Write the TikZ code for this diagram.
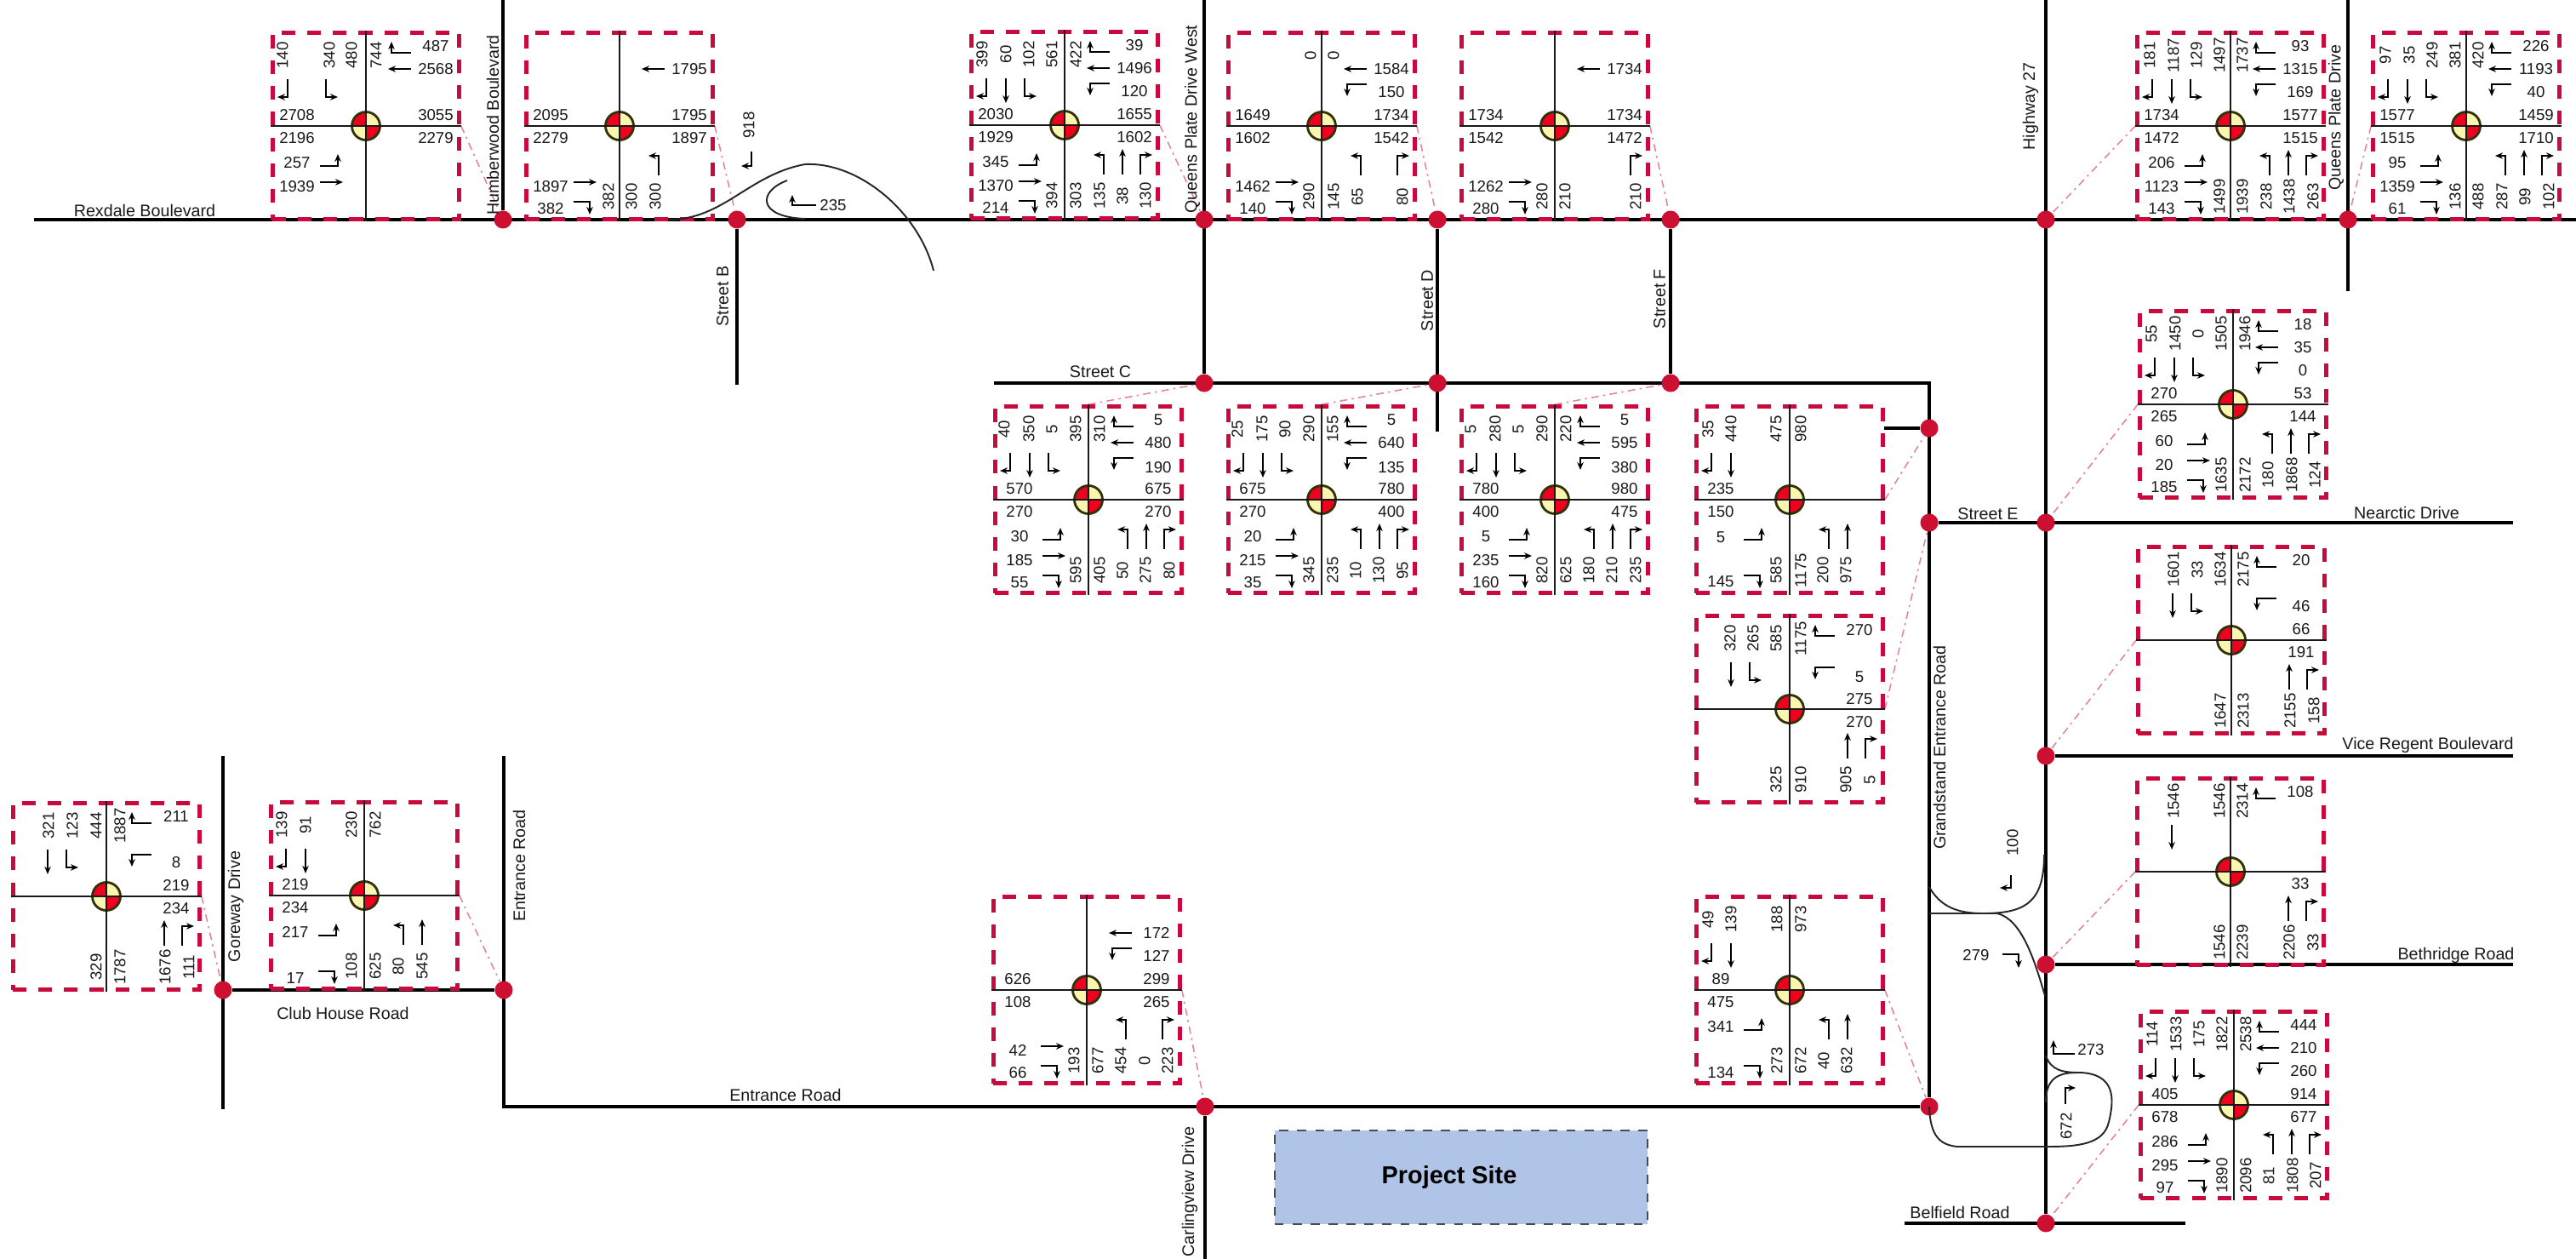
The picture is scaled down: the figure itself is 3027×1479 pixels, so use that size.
\documentclass[tikz,border=0pt]{standalone}
\usepackage{fontspec}
\setmainfont{Liberation Sans}
\usepackage{xcolor}
\usetikzlibrary{arrows.meta,backgrounds}
\definecolor{boxred}{RGB}{200,10,60}
\definecolor{dotred}{RGB}{205,15,50}
\definecolor{sigred}{RGB}{240,0,30}
\definecolor{sigyel}{RGB}{250,245,175}
\definecolor{sigedge}{RGB}{50,50,10}
\definecolor{siteblue}{RGB}{176,196,232}
\tikzset{
  road/.style={line width=1.15pt,black,line join=miter},
  jdot/.style={circle,fill=dotred,minimum size=0.21cm,inner sep=0pt},
  tbox/.style={draw=boxred,line width=1.3pt,dash pattern=on 0.16cm off 0.14cm,minimum size=2.19cm,inner sep=0pt},
  xline/.style={line width=0.55pt,black!90},
  leader/.style={line width=0.45pt,draw=boxred!50,dash pattern=on 2.5pt off 1.5pt on 0.7pt off 1.5pt},
  num/.style={font=\fontsize{5.3}{6}\selectfont,inner sep=0pt,text=black!90},
  numv/.style={num,rotate=90},
  rlabel/.style={font=\fontsize{5.6}{7}\selectfont,inner sep=0pt,text=black!90},
  rlabelv/.style={rlabel,rotate=90},
  mv/.style={line width=0.55pt,-{Stealth[length=0.09cm,width=0.075cm]}},
  ramp/.style={line width=0.55pt,black!85},
  psite/.style={draw=black!70,dashed,fill=siteblue,minimum width=4.38cm,minimum height=1.1cm,inner sep=0pt,font=\fontsize{8.2}{10}\selectfont\bfseries},
}
% movement arrows, in box coordinates
\newcommand{\mvSa}{\draw[mv] (18,55) -- (18,76) -- (6,76);}
\newcommand{\mvSb}{\draw[mv] (41,55) -- (41,84);}
\newcommand{\mvSc}{\draw[mv] (63,55) -- (63,76) -- (77,76);}
\newcommand{\mvWa}{\draw[mv] (163,24) -- (140,24) -- (140,11);}
\newcommand{\mvWb}{\draw[mv] (163,43) -- (136,43);}
\newcommand{\mvWc}{\draw[mv] (163,61) -- (140,61) -- (140,75);}
\newcommand{\mvEa}{\draw[mv] (56,157) -- (77,157) -- (77,143);}
\newcommand{\mvEb}{\draw[mv] (56,176) -- (83,176);}
\newcommand{\mvEc}{\draw[mv] (56,199) -- (75,199) -- (75,214);}
\newcommand{\mvNa}{\draw[mv] (156,168) -- (156,145) -- (144,145);}
\newcommand{\mvNb}{\draw[mv] (178,168) -- (178,138);}
\newcommand{\mvNc}{\draw[mv] (199,168) -- (199,145) -- (213,145);}
% one count box: name, x, y, top, bottom, left, right, moves
\newcommand{\cntbox}[8]{%
  \begin{scope}[shift={(#2,#3)},name prefix=#1-]
    \node[tbox] (box) at (110,110) {};
    \fill[sigyel] (box.center) circle[radius=0.165cm];
    \fill[sigred] (box.center) -- ++(-0.165cm,0) arc[start angle=180,end angle=90,radius=0.165cm] -- cycle;
    \fill[sigred] (box.center) -- ++(0.165cm,0) arc[start angle=0,end angle=-90,radius=0.165cm] -- cycle;
    \draw[sigedge,line width=0.8pt] (box.center) circle[radius=0.165cm];
    \draw[xline] (box.north) -- (box.south);
    \draw[xline] (box.west) -- (box.east);
    \foreach \px/\val [count=\i] in {#4} \node[numv] (t\i) at (\px,27) {\val};
    \foreach \px/\val [count=\i] in {#5} \node[numv] (b\i) at (\px,193) {\val};
    \foreach \py/\val [count=\i] in {#6} \node[num] (l\i) at (29,\py) {\val};
    \foreach \py/\val [count=\i] in {#7} \node[num] (r\i) at (192,\py) {\val};
    \foreach \m in {#8} {\csname mv\m\endcsname}
  \end{scope}}

\begin{document}
\begin{tikzpicture}[x=0.01cm,y=-0.01cm]
  \useasboundingbox (0,0) rectangle (3027,1479);

  % junction dots
  \node[jdot] (humb) at (591,258) {};
  \node[jdot] (strb) at (866,258) {};
  \node[jdot] (qwtop) at (1415,258) {};
  \node[jdot] (strd) at (1689,258) {};
  \node[jdot] (strf) at (1963,258) {};
  \node[jdot] (hwtop) at (2404,258) {};
  \node[jdot] (qpd) at (2759,258) {};
  \node[jdot] (cq) at (1415,450) {};
  \node[jdot] (cd) at (1689,450) {};
  \node[jdot] (cf) at (1963,450) {};
  \node[jdot] (gs1) at (2267,503) {};
  \node[jdot] (gs2) at (2267,614) {};
  \node[jdot] (hwe) at (2404,614) {};
  \node[jdot] (hwv) at (2404,888) {};
  \node[jdot] (hwb) at (2404,1133) {};
  \node[jdot] (hwf) at (2404,1437) {};
  \node[jdot] (gs3) at (2267,1300) {};
  \node[jdot] (carl) at (1416,1300) {};
  \node[jdot] (club) at (592,1163) {};
  \node[jdot] (gore) at (262,1163) {};

  % free road ends
  \coordinate (rexl) at (40,258);
  \coordinate (rexr) at (3027,258);
  \coordinate (humt) at (591,0);
  \coordinate (strbs) at (866,452);
  \coordinate (qwt) at (1415,0);
  \coordinate (strds) at (1689,507);
  \coordinate (strcl) at (1168,450);
  \coordinate (strcr) at (2267,450);
  \coordinate (hwt) at (2404,0);
  \coordinate (qpt) at (2759,0);
  \coordinate (qps) at (2759,342);
  \coordinate (goret) at (262,888);
  \coordinate (gores) at (262,1303);
  \coordinate (entt) at (592,888);
  \coordinate (entc) at (592,1300);
  \coordinate (carls) at (1416,1479);
  \coordinate (near) at (2953,614);
  \coordinate (vice) at (2953,888);
  \coordinate (beth) at (2953,1133);
  \coordinate (bell) at (2238,1437);
  \coordinate (belr) at (2568,1437);
  \coordinate (stub) at (2214,503);

  % count boxes
  \cntbox{n1}{320}{38}{12/140,67/340,93/480,122/744}{}{97/2708,124/2196,153/257,181/1939}{16/487,43/2568,97/3055,124/2279}{Sa,Sc,Wa,Wb,Ea,Eb}
  \cntbox{n2}{618}{38}{}{97/382,124/300,152/300}{97/2095,124/2279,181/1897,207/382}{43/1795,97/1795,124/1897}{Wb,Eb,Ec,Na}
  \cntbox{n3}{1141}{37}{13/399,41/60,68/102,95/561,123/422}{95/394,123/303,151/135,178/38,205/130}{97/2030,124/1929,153/345,181/1370,207/214}{16/39,43/1496,70/120,97/1655,124/1602}{Sa,Sb,Sc,Wa,Wb,Wc,Ea,Eb,Ec,Na,Nb,Nc}
  \cntbox{n4}{1443}{38}{97/0,124/0}{95/290,124/145,152/65,205/80}{97/1649,124/1602,181/1462,207/140}{43/1584,70/150,97/1734,124/1542}{Wb,Wc,Eb,Ec,Na,Nc}
  \cntbox{n5}{1717}{38}{}{95/280,122/210,205/210}{97/1734,124/1542,181/1262,207/280}{43/1734,97/1734,124/1472}{Wb,Eb,Ec,Nc}
  \cntbox{n6}{2511}{38}{15/181,43/1187,70/129,97/1497,124/1737}{97/1499,124/1939,152/238,179/1438,207/263}{97/1734,124/1472,153/206,181/1123,207/143}{16/93,43/1315,70/169,97/1577,124/1515}{Sa,Sb,Sc,Wa,Wb,Wc,Ea,Eb,Ec,Na,Nb,Nc}
  \cntbox{n7}{2788}{38}{15/97,43/35,70/249,97/381,124/420}{97/136,124/488,152/287,179/99,207/102}{97/1577,124/1515,153/95,181/1359,207/61}{16/226,43/1193,70/40,97/1459,124/1710}{Sa,Sb,Sc,Wa,Wb,Wc,Ea,Eb,Ec,Na,Nb,Nc}
  \cntbox{n8}{1169}{477}{11/40,40/350,67/5,95/395,123/310}{95/595,123/405,150/50,177/275,205/80}{97/570,124/270,153/30,181/185,207/55}{16/5,43/480,72/190,97/675,124/270}{Sa,Sb,Sc,Wa,Wb,Wc,Ea,Eb,Ec,Na,Nb,Nc}
  \cntbox{n9}{1443}{477}{11/25,40/175,67/90,95/290,123/155}{95/345,123/235,150/10,177/130,205/95}{97/675,124/270,153/20,181/215,207/35}{16/5,43/640,72/135,97/780,124/400}{Sa,Sb,Sc,Wa,Wb,Wc,Ea,Eb,Ec,Na,Nb,Nc}
  \cntbox{n10}{1717}{477}{11/5,40/280,67/5,95/290,123/220}{95/820,123/625,150/180,177/210,205/235}{97/780,124/400,153/5,181/235,207/160}{16/5,43/595,72/380,97/980,124/475}{Sa,Sb,Sc,Wa,Wb,Wc,Ea,Eb,Ec,Na,Nb,Nc}
  \cntbox{n11}{1993}{477}{14/35,41/440,94/475,123/980}{94/585,123/1175,149/200,176/975}{97/235,124/150,154/5,206/145}{}{Sa,Sb,Ea,Ec,Na,Nb}
  \cntbox{n12}{1993}{723}{40/320,67/265,94/585,123/1175}{94/325,123/910,176/905,204/5}{}{17/270,72/5,98/275,125/270}{Sb,Sc,Wa,Wc,Nb,Nc}
  \cntbox{n13}{2514}{365}{14/55,42/1450,69/0,96/1505,124/1946}{96/1635,124/2172,151/180,179/1868,206/124}{97/270,124/265,153/60,181/20,207/185}{16/18,43/35,70/0,97/53,124/144}{Sa,Sb,Sc,Wa,Wb,Wc,Ea,Eb,Ec,Na,Nb,Nc}
  \cntbox{n14}{2512}{642}{42/1601,70/33,97/1634,124/2175}{97/1647,124/2313,179/2155,207/158}{}{16/20,70/46,97/66,124/191}{Sb,Sc,Wa,Wc,Nb,Nc}
  \cntbox{n15}{2511}{914}{43/1546,97/1546,124/2314}{97/1546,124/2239,179/2206,207/33}{}{16/108,124/33}{Sb,Wa,Nb,Nc}
  \cntbox{n16}{2515}{1188}{14/114,42/1533,69/175,96/1822,124/2538}{96/1890,124/2096,151/81,179/1808,206/207}{97/405,124/678,153/286,181/295,207/97}{16/444,43/210,70/260,97/914,124/677}{Sa,Sb,Sc,Wa,Wb,Wc,Ea,Eb,Ec,Na,Nb,Nc}
  \cntbox{n17}{15}{943}{42/321,70/123,98/444,126/1887}{98/329,126/1787,179/1676,207/111}{}{16/211,70/8,97/219,124/234}{Sb,Sc,Wa,Wc,Nb,Nc}
  \cntbox{n18}{318}{942}{13/139,41/91,95/230,123/762}{95/108,123/625,150/80,178/545}{97/219,124/234,153/217,207/17}{}{Sa,Sb,Ea,Ec,Na,Nb}
  \cntbox{n19}{1167}{1053}{}{95/193,123/677,150/454,178/0,205/223}{97/626,124/108,181/42,207/66}{43/172,70/127,97/299,124/265}{Wb,Wc,Eb,Ec,Na,Nc}
  \cntbox{n20}{1993}{1053}{14/49,41/139,95/188,123/973}{95/273,123/672,150/40,177/632}{97/89,124/475,153/341,207/134}{}{Sa,Sb,Ea,Ec,Na,Nb}

  \begin{scope}[on background layer]
    % roads
    \draw[road] (rexl) -- (rexr);
    \draw[road] (humt) -- (humb);
    \draw[road] (strb) -- (strbs);
    \draw[road] (qwt) -- (cq);
    \draw[road] (strd) -- (strds);
    \draw[road] (strf) -- (cf);
    \draw[road] (strcl) -- (strcr) -- (gs3);
    \draw[road] (hwt) -- (hwf);
    \draw[road] (qpt) -- (qps);
    \draw[road] (goret) -- (gores);
    \draw[road] (entt) -- (entc) -- (gs3);
    \draw[road] (gore) -- (club);
    \draw[road] (carl) -- (carls);
    \draw[road] (gs2) -- (near);
    \draw[road] (hwv) -- (vice);
    \draw[road] (hwb) -- (beth);
    \draw[road] (bell) -- (belr);
    \draw[road] (stub) -- (gs1);
    % leaders
    \draw[leader] (n1-box.east) -- (humb);
    \draw[leader] (n2-box.east) -- (strb);
    \draw[leader] (n3-box.east) -- (qwtop);
    \draw[leader] (n4-box.east) -- (strd);
    \draw[leader] (n5-box.east) -- (strf);
    \draw[leader] (n6-box.west) -- (hwtop);
    \draw[leader] (n7-box.west) -- (qpd);
    \draw[leader] (n8-box.north) -- (cq);
    \draw[leader] (n9-box.north) -- (cd);
    \draw[leader] (n10-box.north) -- (cf);
    \draw[leader] (n11-box.east) -- (gs1);
    \draw[leader] (n12-box.east) -- (gs2);
    \draw[leader] (n13-box.west) -- (hwe);
    \draw[leader] (n14-box.west) -- (hwv);
    \draw[leader] (n15-box.west) -- (hwb);
    \draw[leader] (n16-box.west) -- (hwf);
    \draw[leader] (n17-box.east) -- (gore);
    \draw[leader] (n18-box.east) -- (club);
    \draw[leader] (n19-box.east) -- (carl);
    \draw[leader] (n20-box.east) -- (gs3);
  \end{scope}

  % free-flow ramps
  \draw[ramp] (786,258) .. controls (850,258) and (880,205) .. (946,193) .. controls (1010,190) and (1080,250) .. (1097,318);
  \draw[ramp] (925,212) .. controls (890,225) and (890,255) .. (946,257);
  \draw[ramp] (2267,1042) .. controls (2280,1065) and (2300,1073) .. (2330,1073) .. controls (2380,1073) and (2402,1060) .. (2402,1004);
  \draw[ramp] (2267,1073) -- (2347,1073) .. controls (2375,1080) and (2390,1125) .. (2403,1170);
  \draw[ramp] (2404,1240) .. controls (2410,1258) and (2425,1260) .. (2445,1260) .. controls (2485,1262) and (2485,1290) .. (2478,1318) .. controls (2472,1345) and (2440,1347) .. (2404,1347) -- (2300,1347) .. controls (2280,1345) and (2268,1335) .. (2267,1300);
  \draw[ramp] (2404,1295) .. controls (2404,1270) and (2415,1260) .. (2440,1260);
  \draw[mv] (883,178) -- (883,195) -- (871,195);
  \draw[mv] (959,241) -- (931,241) -- (931,229);
  \draw[mv] (2363,1028) -- (2363,1043) -- (2350,1043);
  \draw[mv] (2353,1121) -- (2372,1121) -- (2372,1137);
  \draw[mv] (2438,1238) -- (2413,1238) -- (2413,1222);
  \draw[mv] (2427,1297) -- (2427,1278) -- (2439,1278);
  \node[numv] (f918) at (880,147) {918};
  \node[num] (f235) at (979,241) {235};
  \node[numv] (f100) at (2365,990) {100};
  \node[num] (f279) at (2322,1122) {279};
  \node[num] (f273) at (2457,1233) {273};
  \node[numv] (f672) at (2428,1323) {672};

  % road names
  \node[rlabel] (lrex) at (170,247) {Rexdale Boulevard};
  \node[rlabelv] (lhum) at (579,147) {Humberwood Boulevard};
  \node[rlabelv] (lstb) at (849,348) {Street B};
  \node[rlabelv] (lqpw) at (1401,140) {Queens Plate Drive West};
  \node[rlabel] (lstc) at (1293,437) {Street C};
  \node[rlabelv] (lstd) at (1677,353) {Street D};
  \node[rlabelv] (lstf) at (1950,351) {Street F};
  \node[rlabelv] (lhw) at (2386,125) {Highway 27};
  \node[rlabelv] (lqpd) at (2745,138) {Queens Plate Drive};
  \node[rlabel] (lste) at (2336,604) {Street E};
  \node[rlabel] (lnea) at (2828,602) {Nearctic Drive};
  \node[rlabel] (lvic) at (2853,875) {Vice Regent Boulevard};
  \node[rlabel] (lbet) at (2886,1122) {Bethridge Road};
  \node[rlabel] (lbel) at (2303,1424) {Belfield Road};
  \node[rlabelv] (lgra) at (2279,878) {Grandstand Entrance Road};
  \node[rlabelv] (lenv) at (610,1017) {Entrance Road};
  \node[rlabel] (lenh) at (923,1286) {Entrance Road};
  \node[rlabelv] (lgor) at (277,1065) {Goreway Drive};
  \node[rlabel] (lclu) at (403,1190) {Club House Road};
  \node[rlabelv] (lcar) at (1398,1400) {Carlingview Drive};

  \node[psite] (site) at (1717,1383) {};
  \node[font=\fontsize{8.2}{10}\selectfont\bfseries,inner sep=0pt] (sitetext) at (1703,1383) {Project Site};
\end{tikzpicture}
\end{document}
